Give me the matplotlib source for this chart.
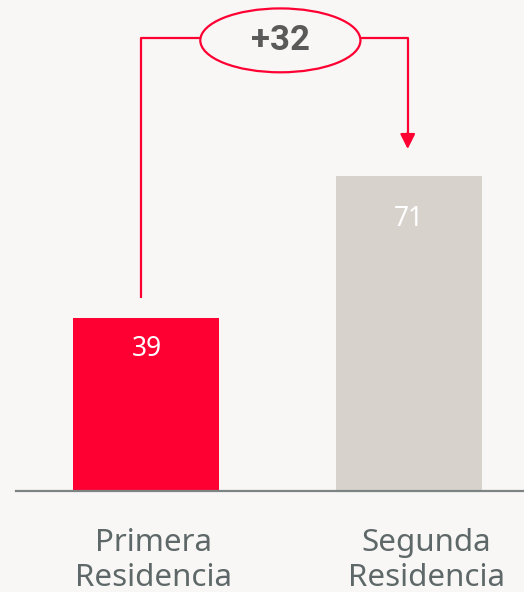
import matplotlib
matplotlib.use("Agg")
import matplotlib.pyplot as plt
from matplotlib.patches import Ellipse

categories = ["Primera\nResidencia", "Segunda\nResidencia"]
values = [39, 71]
bar_colors = ["#ff0033", "#d7d2cc"]
label_offsets = [7.0, 9.6]
cat_label_shift = [0.027, 0.065]
diff_label = "+32"

BG = "#f8f7f5"
RED = "#ff0033"
plt.rcParams['font.family'] = ['Noto Sans', 'DejaVu Sans']

fig = plt.figure(figsize=(5.24, 5.92), dpi=100, facecolor=BG)
ax = fig.add_axes([16/524, 101/592, 508/524, 491/592])
ax.set_facecolor(BG)

x = [0, 1]
ax.bar(x, values, width=0.556, color=bar_colors, zorder=2)
ax.set_xlim(-0.497, 1.438)
ax.set_ylim(0, 110.7)

for xi, v, off in zip(x, values, label_offsets):
    ax.text(xi, v - off, str(v), ha='center', va='center', color='white',
            fontsize=19, zorder=3)

for xi, c, sh in zip(x, categories, cat_label_shift):
    ax.text(xi + sh, -8.4, c, ha='center', va='top', color='#5e6868',
            fontsize=22.5, linespacing=1.2, transform=ax.transData, clip_on=False)

for s in ['top', 'right', 'left']:
    ax.spines[s].set_visible(False)
ax.spines['bottom'].set_color('#7d8282')
ax.spines['bottom'].set_linewidth(1.6)
ax.set_xticks([])
ax.set_yticks([])

# annotation bracket
top_y = 102.1
ell_cx, ell_w, ell_h = 0.51, 0.61, 14.4
x_left = x[0] - 0.019
x_right = x[1] - 0.005
ax.plot([x_left, x_left, ell_cx - ell_w/2], [values[0] + 4.5, top_y, top_y],
        color=RED, lw=1.6, solid_capstyle='butt', zorder=3)
ax.plot([ell_cx + ell_w/2, x_right, x_right], [top_y, top_y, values[1] + 9.4],
        color=RED, lw=1.6, solid_capstyle='butt', zorder=3)
ax.annotate('', xy=(x_right, values[1] + 6.1), xytext=(x_right, values[1] + 9.8),
            arrowprops=dict(arrowstyle='-|>,head_length=0.9,head_width=0.45',
                            color=RED, lw=1.6, shrinkA=0, shrinkB=0), zorder=3)
ax.add_patch(Ellipse((ell_cx, top_y - 0.5), ell_w, ell_h, facecolor=BG,
                     edgecolor=RED, lw=1.6, zorder=4, clip_on=False))
ax.text(ell_cx, top_y - 0.5, diff_label, ha='center', va='center',
        color='#5a5a5a', fontsize=25, fontweight='bold', zorder=5,
        family=['Roboto', 'DejaVu Sans'])

fig.savefig("out.png", dpi=100, facecolor=BG)
